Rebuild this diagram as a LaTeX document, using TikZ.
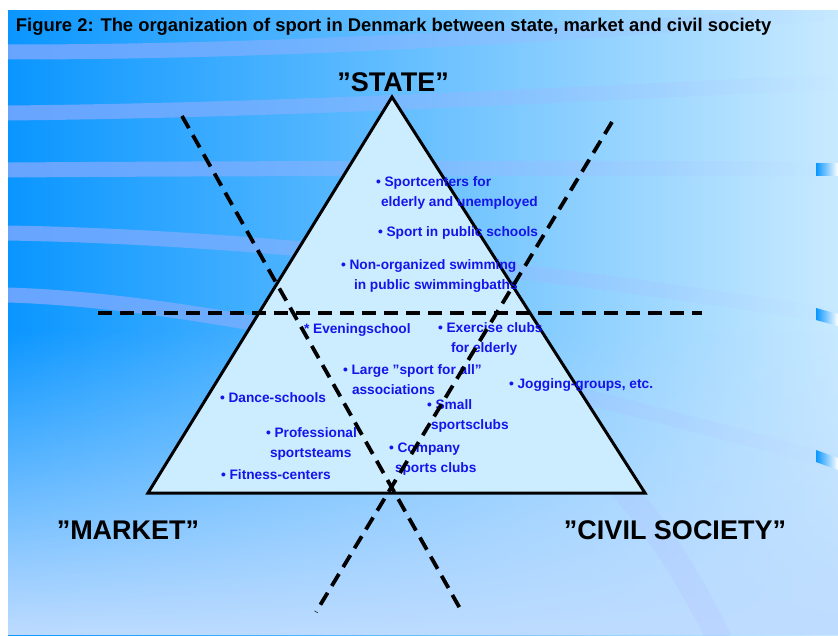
\documentclass[tikz,border=0pt]{standalone}
\usepackage{fontspec}
\setmainfont{Liberation Sans}
\usetikzlibrary{fadings}

\definecolor{bgdark}{RGB}{10,150,255}
\definecolor{bglight}{RGB}{200,234,255}
\definecolor{bglow}{RGB}{190,220,255}
\definecolor{bgband}{RGB}{170,175,255}
\definecolor{trifill}{RGB}{204,236,255}
\definecolor{itemblue}{RGB}{20,20,235}

\begin{document}
\begin{tikzpicture}
[x=1pt,y=-1pt,
 every node/.style={inner sep=0pt,outer sep=0pt},
 item/.style={anchor=north west,align=left,text=itemblue,font=\bfseries\fontsize{13.7}{20}\selectfont},
 pole/.style={font=\bfseries\fontsize{27}{30}\selectfont},
 cutline/.style={line width=3.8pt,dash pattern=on 14pt off 8pt},
 band/.style={line width=15pt,bgband,opacity=0.6,path fading=east},
 tab/.style={left color=bgdark,right color=white}]

% background
\useasboundingbox (0,0) rectangle (838,635);
\fill[white] (0,0) rectangle (838,635);
\shade[left color=bgdark,right color=bglight] (8,10) rectangle (838,635);
\fill[bglow,path fading=north] (8,330) rectangle (838,635);
\begin{scope}
\clip (8,10) rectangle (838,635);
\draw[band] (8,52)  .. controls (250,52)  and (500,40)  .. (838,12);
\draw[band] (8,113) .. controls (300,110) and (550,95)  .. (838,82);
\draw[band] (8,170) .. controls (300,168) and (600,168) .. (838,169);
\draw[band] (8,233) .. controls (300,238) and (600,280) .. (838,316);
\draw[band] (8,295) .. controls (250,302) and (600,400) .. (838,462);
\draw[line width=25pt,bgband,opacity=0.15] (520,400) .. controls (620,460) and (680,560) .. (720,640);
\end{scope}
\shade[tab] (816,163) rectangle (838,175);
\shade[tab] (816,308) -- (838,314) -- (838,326) -- (816,320) -- cycle;
\shade[tab] (816,450) -- (838,458) -- (838,470) -- (816,462) -- cycle;

% title
\node[anchor=west,font=\bfseries\fontsize{18.4}{22}\selectfont] (title) at (16,27)
  {Figure 2: The organization of sport in Denmark between state, market and civil society};

% triangle
\coordinate (apex)   at (392,97);
\coordinate (mleft)  at (148,493);
\coordinate (mright) at (645,493);
\filldraw[fill=trifill,draw=black,line width=3pt,line join=miter] (apex) -- (mleft) -- (mright) -- cycle;

% poles
\node[pole] (state)  at (393,82)  {”STATE”};
\node[pole] (market) at (128,530) {”MARKET”};
\node[pole] (civil)  at (675,530) {”CIVIL SOCIETY”};

% items
\node[item] (sportctr) at (376,177) {\textbullet{} Sportcenters for\\\hspace*{5pt}elderly and unemployed};
\node[item] (school)   at (378,227) {\textbullet{} Sport in public schools};
\node[item] (swim)     at (341,260) {\textbullet{} Non-organized swimming\\\hspace*{13pt}in public swimmingbaths};
\node[item] (evening)  at (304,324) {* Eveningschool};
\node[item] (exercise) at (438,323) {\textbullet{} Exercise clubs\\\hspace*{13pt}for elderly};
\node[item] (large)    at (343,365) {\textbullet{} Large ”sport for all”\\\hspace*{9pt}associations};
\node[item] (jogging)  at (509,379) {\textbullet{} Jogging-groups, etc.};
\node[item] (dance)    at (220,393) {\textbullet{} Dance-schools};
\node[item] (small)    at (427,400) {\textbullet{} Small\\\hspace*{4pt}sportsclubs};
\node[item] (prof)     at (266,428) {\textbullet{} Professional\\\hspace*{4pt}sportsteams};
\node[item] (company)  at (389,443) {\textbullet{} Company\\\hspace*{6pt}sports clubs};
\node[item] (fitness)  at (221,470) {\textbullet{} Fitness-centers};

% dividing lines
\coordinate (hl) at (98,313);
\coordinate (hr) at (702,313);
\coordinate (atop) at (182,116);
\coordinate (abot) at (462,612);
\coordinate (btop) at (612,122);
\coordinate (bbot) at (316,612);
\draw[cutline] (hl) -- (hr);
\draw[cutline] (atop) -- (abot);
\draw[cutline] (btop) -- (bbot);

\end{tikzpicture}
\end{document}
